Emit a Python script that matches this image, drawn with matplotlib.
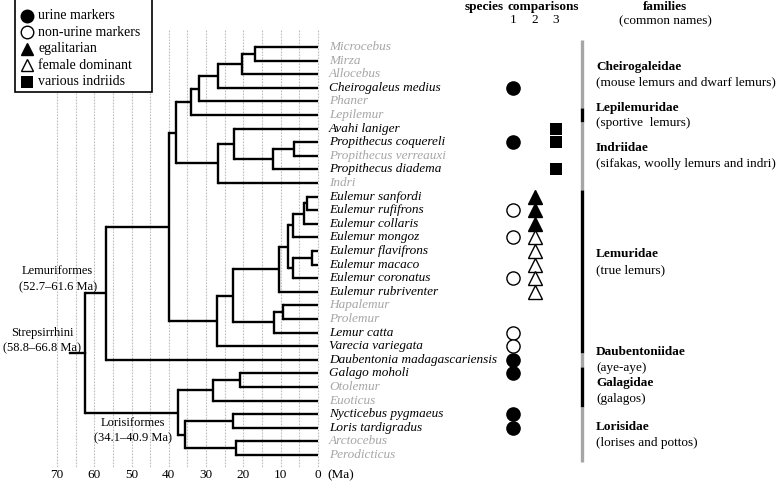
import matplotlib.pyplot as plt
from matplotlib.patches import Rectangle

plt.rcParams['font.family'] = ['Liberation Serif', 'DejaVu Serif']

# ---- data ----
tips = ['Microcebus', 'Mirza', 'Allocebus', 'Cheirogaleus medius', 'Phaner',
        'Lepilemur', 'Avahi laniger', 'Propithecus coquereli',
        'Propithecus verreauxi', 'Propithecus diadema', 'Indri',
        'Eulemur sanfordi', 'Eulemur rufifrons', 'Eulemur collaris',
        'Eulemur mongoz', 'Eulemur flavifrons', 'Eulemur macaco',
        'Eulemur coronatus', 'Eulemur rubriventer', 'Hapalemur', 'Prolemur',
        'Lemur catta', 'Varecia variegata', 'Daubentonia madagascariensis',
        'Galago moholi', 'Otolemur', 'Euoticus', 'Nycticebus pygmaeus',
        'Loris tardigradus', 'Arctocebus', 'Perodicticus']
studied = [0, 0, 0, 1, 0, 0, 1, 1, 0, 1, 0, 1, 1, 1, 1, 1, 1, 1, 1, 0, 0,
           1, 1, 1, 1, 0, 0, 1, 1, 0, 0]

# internal nodes: name -> (age in Ma, children)
clades = {
    'Strepsirrhini': (62.5, ['Lemuriformes', 'Lorisiformes']),
    'Lemuriformes': (56.9, ['L1', 'Daubentonia madagascariensis']),
    'L1': (40.0, ['L2', 'Lemuridae']),
    'L2': (38.1, ['CL', 'Indriidae']),
    'CL': (34.1, ['Cheirogaleidae', 'Lepilemur']),
    'Cheirogaleidae': (31.9, ['C2', 'Phaner']),
    'C2': (26.8, ['C3', 'Cheirogaleus medius']),
    'C3': (20.4, ['C4', 'Allocebus']),
    'C4': (16.9, ['Microcebus', 'Mirza']),
    'Indriidae': (26.8, ['I2', 'Indri']),
    'I2': (22.5, ['Avahi laniger', 'I3']),
    'I3': (12.1, ['I4', 'Propithecus diadema']),
    'I4': (6.4, ['Propithecus coquereli', 'Propithecus verreauxi']),
    'Lemuridae': (27.1, ['M2', 'Varecia variegata']),
    'M2': (22.8, ['Eulemur', 'M3']),
    'Eulemur': (10.4, ['E2', 'Eulemur rubriventer']),
    'E2': (8.0, ['E3', 'E6']),
    'E3': (6.8, ['E4', 'Eulemur mongoz']),
    'E4': (3.7, ['E5', 'Eulemur collaris']),
    'E5': (2.9, ['Eulemur sanfordi', 'Eulemur rufifrons']),
    'E6': (6.6, ['E7', 'Eulemur coronatus']),
    'E7': (1.7, ['Eulemur flavifrons', 'Eulemur macaco']),
    'M3': (11.8, ['M4', 'Lemur catta']),
    'M4': (9.4, ['Hapalemur', 'Prolemur']),
    'Lorisiformes': (37.5, ['Galagidae', 'Lorisidae']),
    'Galagidae': (28.2, ['G2', 'Euoticus']),
    'G2': (20.9, ['Galago moholi', 'Otolemur']),
    'Lorisidae': (35.7, ['N2', 'N3']),
    'N2': (22.8, ['Nycticebus pygmaeus', 'Loris tardigradus']),
    'N3': (22.0, ['Arctocebus', 'Perodicticus']),
}
root = 'Strepsirrhini'
root_stem_age = 66.6

# comparison columns
comp1 = {'Cheirogaleus medius': 'urine', 'Propithecus coquereli': 'urine',
         'Eulemur rufifrons': 'non-urine', 'Eulemur mongoz': 'non-urine',
         'Eulemur coronatus': 'non-urine', 'Lemur catta': 'non-urine',
         'Varecia variegata': 'non-urine',
         'Daubentonia madagascariensis': 'urine', 'Galago moholi': 'urine',
         'Nycticebus pygmaeus': 'urine', 'Loris tardigradus': 'urine'}
comp2 = {'Eulemur sanfordi': 'egalitarian', 'Eulemur rufifrons': 'egalitarian',
         'Eulemur collaris': 'egalitarian', 'Eulemur mongoz': 'female',
         'Eulemur flavifrons': 'female', 'Eulemur macaco': 'female',
         'Eulemur coronatus': 'female', 'Eulemur rubriventer': 'female'}
comp3 = {'Avahi laniger': 'indriid', 'Propithecus coquereli': 'indriid',
         'Propithecus diadema': 'indriid'}

families = ['Cheirogaleidae', 'Lepilemuridae', 'Indriidae', 'Lemuridae',
            'Daubentoniidae', 'Galagidae', 'Lorisidae']
common_names = ['(mouse lemurs and dwarf lemurs)', '(sportive  lemurs)',
                '(sifakas, woolly lemurs and indri)', '(true lemurs)',
                '(aye-aye)', '(galagos)', '(lorises and pottos)']
family_first = ['Microcebus', 'Lepilemur', 'Avahi laniger', 'Eulemur sanfordi',
                'Daubentonia madagascariensis', 'Galago moholi', 'Nycticebus pygmaeus']
family_last = ['Phaner', 'Lepilemur', 'Indri', 'Varecia variegata',
               'Daubentonia madagascariensis', 'Euoticus', 'Perodicticus']

age_ticks = [70, 60, 50, 40, 30, 20, 10, 0]
grid_ages = list(range(70, -1, -5))

# marker styles
styles = {
    'urine': dict(marker='o', mfc='black', ms=9.5, mew=1.0),
    'non-urine': dict(marker='o', mfc='white', ms=9.5, mew=1.0),
    'egalitarian': dict(marker='^', mfc='black', ms=9.5, mew=1.0),
    'female': dict(marker='^', mfc='white', ms=9.5, mew=1.0),
    'indriid': dict(marker='s', mfc='black', ms=9.0, mew=0),
}
legend_labels = [('urine', 'urine markers'), ('non-urine', 'non-urine markers'),
                 ('egalitarian', 'egalitarian'), ('female', 'female dominant'),
                 ('indriid', 'various indriids')]

# ---- layout (pixels) ----
W, H = 776, 482
X0, PPM = 318, 3.729     # px of age 0, px per Ma
Y0, ROW = 47, 13.6       # px of first tip, px per row
GREY = '#a6a6a6'
fam_shift = [0, 0, 0, -0.7, 0, 0.25, 0]   # nudges of family names, in rows


def ax_x(px):
    return (X0 - px) / PPM


def ax_y(py):
    return (py - Y0) / ROW


fig = plt.figure(figsize=(W / 100, H / 100), dpi=100)
ax = fig.add_axes([0, 0, 1, 1])
ax.set_xlim(ax_x(0), ax_x(W))
ax.set_ylim(ax_y(H), ax_y(0))
ax.axis('off')

# grid lines
for a in grid_ages:
    ax.plot([a, a], [ax_y(30), ax_y(467)], color='#bdbdbd', lw=0.8,
            ls=(0, (1.5, 1.2)), zorder=0)

# tree
lw_tree = 1.7


def draw(node):
    if node in tips:
        return 0.0, float(tips.index(node))
    age, kids = clades[node]
    ys = []
    for k in kids:
        ka, ky = draw(k)
        ax.plot([age, ka], [ky, ky], color='black', lw=lw_tree,
                solid_capstyle='butt', zorder=2)
        ys.append(ky)
    ax.plot([age, age], [min(ys), max(ys)], color='black', lw=lw_tree,
            solid_capstyle='projecting', zorder=2)
    return age, (min(ys) + max(ys)) / 2


ra, ry = draw(root)
ax.plot([root_stem_age, ra], [ry, ry], color='black', lw=lw_tree, zorder=2)

# tip labels
for i, (name, s) in enumerate(zip(tips, studied)):
    ax.text(ax_x(329), i, name, ha='left', va='center', fontsize=9.5,
            style='italic', color='black' if s else GREY)

# clade labels
ax.text(ax_x(57), ax_y(271), 'Lemuriformes', ha='center', va='center', fontsize=9)
ax.text(ax_x(58), ax_y(287), '(52.7\u201361.6 Ma)', ha='center', va='center', fontsize=9)
ax.text(ax_x(42), ax_y(333), 'Strepsirrhini', ha='center', va='center', fontsize=9)
ax.text(ax_x(42), ax_y(348), '(58.8\u201366.8 Ma)', ha='center', va='center', fontsize=9)
ax.text(ax_x(133), ax_y(423), 'Lorisiformes', ha='center', va='center', fontsize=9)
ax.text(ax_x(133), ax_y(438), '(34.1\u201340.9 Ma)', ha='center', va='center', fontsize=9)

# age axis labels
for a in age_ticks:
    ax.text(a, ax_y(475), str(a), ha='center', va='center', fontsize=9.5)
ax.text(ax_x(341), ax_y(475), '(Ma)', ha='center', va='center', fontsize=9.5)

# comparison markers
col_x = [ax_x(513), ax_x(535), ax_x(556)]
for cx, comp in zip(col_x, [comp1, comp2, comp3]):
    for name, kind in comp.items():
        ax.plot(cx, tips.index(name), mec='black', ls='none', zorder=3,
                **styles[kind])

# headers
ax.text(ax_x(484), ax_y(7), 'species', ha='center', va='center', fontsize=9.5, fontweight='bold')
ax.text(ax_x(543), ax_y(7), 'comparisons', ha='center', va='center', fontsize=9.5, fontweight='bold')
for j, cx in enumerate(col_x):
    ax.text(cx, ax_y(20), str(j + 1), ha='center', va='center', fontsize=9.5)
ax.text(ax_x(665), ax_y(7), 'families', ha='center', va='center', fontsize=9.5, fontweight='bold')
ax.text(ax_x(665), ax_y(21), '(common names)', ha='center', va='center', fontsize=9.5)

# family bars and names
bar_x = ax_x(582)
for k, (fam, cn, f0, f1) in enumerate(zip(families, common_names, family_first, family_last)):
    r0, r1 = tips.index(f0), tips.index(f1)
    ax.plot([bar_x, bar_x], [r0 - 0.5, r1 + 0.5], lw=2.4,
            color=GREY if k % 2 == 0 else 'black', solid_capstyle='butt')
    mid = (r0 + r1) / 2 + fam_shift[k]
    ax.text(ax_x(596), mid - 0.55, fam, ha='left', va='center', fontsize=9.5, fontweight='bold')
    ax.text(ax_x(596), mid + 0.62, cn, ha='left', va='center', fontsize=9.5)

# legend
ax.add_patch(Rectangle((ax_x(15), ax_y(-1)), ax_x(152) - ax_x(15), ax_y(92) - ax_y(-1),
                       facecolor='white', edgecolor='black', lw=1.2, zorder=4))
for i, (kind, label) in enumerate(legend_labels):
    ly = ax_y(16 + 16.5 * i)
    st = dict(styles[kind])
    st['ms'] = st['ms'] * 0.95
    ax.plot(ax_x(27), ly, mec='black', ls='none', zorder=5, **st)
    ax.text(ax_x(38), ly, label, ha='left', va='center', fontsize=10, zorder=5)

fig.savefig('out.png', dpi=100)
